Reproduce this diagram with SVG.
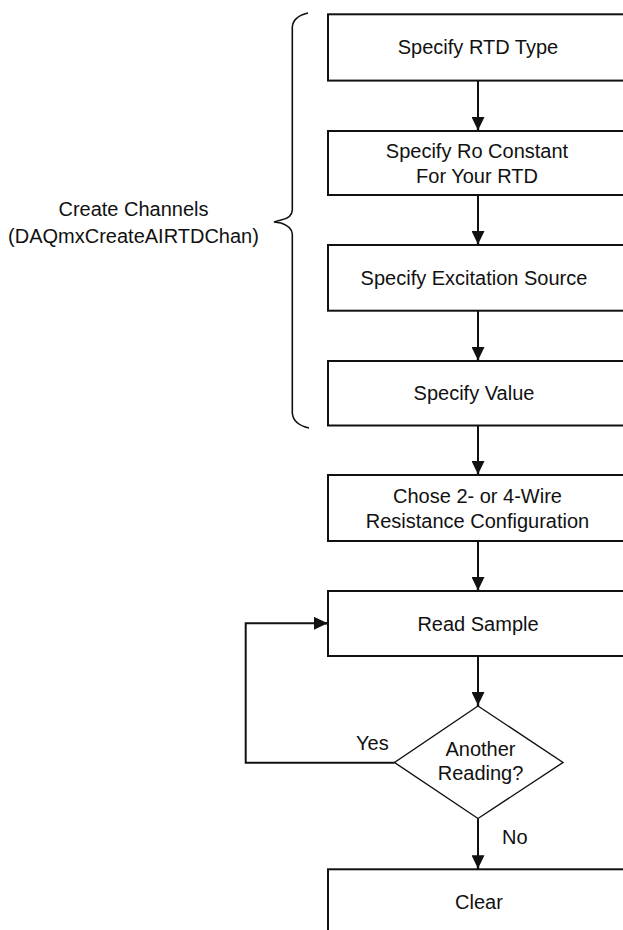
<svg xmlns="http://www.w3.org/2000/svg" width="623" height="930" viewBox="0 0 623 930">
<style>
.box{fill:#fff;stroke:#111;stroke-width:2}
.dia{fill:#fff;stroke:#111;stroke-width:1.4}
.t{font-family:"Liberation Sans",Arial,sans-serif;font-size:20px;fill:#111}
.m{text-anchor:middle}
.c{fill:none;stroke:#111;stroke-width:2}
.br{fill:none;stroke:#111;stroke-width:1.6}
</style>
<defs>
<marker id="ah" markerUnits="userSpaceOnUse" viewBox="0 0 14 13" refX="14" refY="6.5" markerWidth="14" markerHeight="13" orient="auto">
<path d="M0,0 L11,5.3 L14,5.3 L14,7.7 L11,7.7 L0,13 Z" fill="#111"/>
</marker>
</defs>
<rect width="623" height="930" fill="#fff"/>
<g id="brace">
<path class="br" d="M308,13 C299,15 293,19 292.3,27 L292.3,210 C292,216 287,219 281,220 L274,222 L281,223 C287,225 292,228 292.3,234 L292.3,413 C293,421 300,426 309,428"/>
<text class="t m" x="133.5" y="215.5">Create Channels</text>
<text class="t m" x="133.5" y="243">(DAQmxCreateAIRTDChan)</text>
</g>
<g id="n1"><rect class="box" x="328" y="14.3" width="300" height="66.3"/><text class="t m" x="478" y="54.3">Specify RTD Type</text></g>
<g id="n2"><rect class="box" x="328" y="131" width="300" height="64"/><text class="t m" x="477" y="158">Specify Ro Constant</text><text class="t m" x="477" y="183">For Your RTD</text></g>
<g id="n3"><rect class="box" x="328" y="245" width="300" height="65.7"/><text class="t m" x="474" y="285">Specify Excitation Source</text></g>
<g id="n4"><rect class="box" x="328" y="361" width="300" height="64.5"/><text class="t m" x="474" y="400">Specify Value</text></g>
<g id="n5"><rect class="box" x="328" y="475" width="300" height="66"/><text class="t m" x="477.5" y="503.3">Chose 2- or 4-Wire</text><text class="t m" x="477.5" y="528.3">Resistance Configuration</text></g>
<g id="n6"><rect class="box" x="328" y="591" width="300" height="65"/><text class="t m" x="478" y="630.5">Read Sample</text></g>
<g id="n7"><path class="dia" d="M478,706 L563,762.5 L478,818.5 L394.5,762.5 Z"/><text class="t m" x="480.5" y="756">Another</text><text class="t m" x="480.5" y="780">Reading?</text></g>
<g id="n8"><rect class="box" x="328" y="869.3" width="300" height="66"/><text class="t m" x="479" y="909">Clear</text></g>
<g id="connectors">
<path class="c" d="M478,80.6 V131" marker-end="url(#ah)"/>
<path class="c" d="M478,195 V245" marker-end="url(#ah)"/>
<path class="c" d="M478,310.7 V361" marker-end="url(#ah)"/>
<path class="c" d="M478,425.5 V475" marker-end="url(#ah)"/>
<path class="c" d="M478,541 V591" marker-end="url(#ah)"/>
<path class="c" d="M478,656 V706" marker-end="url(#ah)"/>
<path class="c" d="M478,818.5 V869.3" marker-end="url(#ah)"/>
<path class="c" d="M394.5,762.7 H245.7 V623.3 H328" marker-end="url(#ah)"/>
<text class="t" x="356" y="750">Yes</text>
<text class="t" x="502" y="844.3">No</text>
</g>
</svg>
